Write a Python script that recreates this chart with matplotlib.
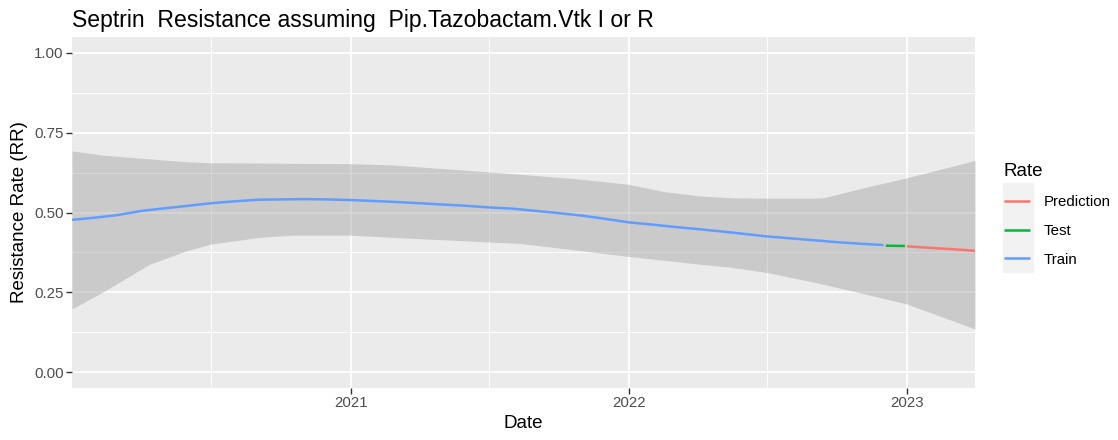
import pandas as pd
import matplotlib
matplotlib.use("Agg")
import matplotlib.pyplot as plt
import matplotlib.dates as mdates
from matplotlib.patches import Rectangle

plt.rcParams['font.family'] = ['Liberation Sans', 'DejaVu Sans']

# --- data ---
train_dates = pd.date_range("2020-01-01", "2022-12-01", freq="MS")
train_rate = [0.477, 0.484, 0.492, 0.505, 0.513, 0.521, 0.529, 0.535, 0.540, 0.541, 0.542, 0.541,
              0.539, 0.536, 0.533, 0.529, 0.525, 0.521, 0.516, 0.512, 0.505, 0.498, 0.490, 0.480,
              0.469, 0.462, 0.455, 0.448, 0.441, 0.433, 0.425, 0.419, 0.413, 0.407, 0.402, 0.398]

test_dates = pd.to_datetime(["2022-12-04", "2022-12-29"])
test_rate = [0.396, 0.395]

pred_dates = pd.to_datetime(["2023-01-01", "2023-02-01", "2023-03-01", "2023-03-31"])
pred_rate = [0.394, 0.389, 0.385, 0.380]

band_dates = pd.to_datetime([
    "2020-01-01", "2020-02-10", "2020-04-12", "2020-05-30", "2020-07-01", "2020-09-03",
    "2020-10-16", "2021-01-01", "2021-02-25", "2021-08-11", "2021-11-01", "2022-01-01",
    "2022-02-17", "2022-04-03", "2022-05-16", "2022-07-01", "2022-09-02", "2022-09-13",
    "2022-11-06", "2023-01-01", "2023-03-31"])
band_low = [0.198, 0.250, 0.338, 0.380, 0.401, 0.422, 0.429, 0.429, 0.422, 0.403, 0.380, 0.362,
            0.350, 0.338, 0.328, 0.312, 0.281, 0.275, 0.245, 0.213, 0.135]
band_high = [0.693, 0.680, 0.668, 0.659, 0.656, 0.655, 0.654, 0.653, 0.649, 0.620, 0.604, 0.588,
             0.565, 0.552, 0.546, 0.545, 0.545, 0.546, 0.578, 0.609, 0.663]

year_ticks = pd.to_datetime(["2021-01-01", "2022-01-01", "2023-01-01"])
half_years = pd.to_datetime(["2020-07-01", "2021-07-01", "2022-07-01"])

series = [("Prediction", pred_dates, pred_rate, "#F8766D"),
          ("Test", test_dates, test_rate, "#00BA38"),
          ("Train", train_dates, train_rate, "#619CFF")]

# --- figure ---
fig = plt.figure(figsize=(11.18, 4.4), dpi=100)
ax = fig.add_axes([72 / 1118, 1 - 388 / 440, (975 - 72) / 1118, (388 - 37) / 440])
ax.set_facecolor("#EBEBEB")

ax.fill_between(band_dates, band_low, band_high, color="#999999", alpha=0.4, lw=0, zorder=2)

handles = {}
for name, d, r, c in series:
    handles[name], = ax.plot(d, r, color=c, lw=1.8, solid_capstyle="butt", zorder=3, label=name)

ax.set_xlim(pd.Timestamp("2020-01-01"), pd.Timestamp("2023-03-31"))
ax.set_ylim(-0.05, 1.05)
ax.set_yticks([0, 0.25, 0.5, 0.75, 1.0])
ax.set_yticklabels(["0.00", "0.25", "0.50", "0.75", "1.00"])
ax.set_yticks([0.125, 0.375, 0.625, 0.875], minor=True)
ax.set_xticks(mdates.date2num(year_ticks))
ax.set_xticklabels([str(d.year) for d in year_ticks])
ax.set_xticks(mdates.date2num(half_years), minor=True)

ax.grid(which="major", color="white", lw=1.25, zorder=1)
ax.grid(which="minor", color="white", lw=0.65, zorder=1)
ax.set_axisbelow(True)
for s in ax.spines.values():
    s.set_visible(False)
ax.tick_params(which="major", length=4, width=1.0, color="#333333", labelcolor="#4D4D4D",
               labelsize=10.8, pad=2)
ax.tick_params(which="minor", length=0)

ax.set_xlabel("Date", fontsize=13.5, labelpad=3)
ax.set_ylabel("Resistance Rate (RR)", fontsize=13.5, labelpad=4)
ax.set_title("Septrin  Resistance assuming  Pip.Tazobactam.Vtk I or R",
             fontsize=16.6, loc="left", pad=7)

# legend
fig.patches.append(Rectangle((1003 / 1118, 1 - 272 / 440), 30 / 1118, 89 / 440,
                             transform=fig.transFigure, color="#F2F2F2", zorder=0))
fig.legend([handles[n] for n in ["Prediction", "Test", "Train"]],
           ["Prediction", "Test", "Train"], title="Rate",
           loc="upper left", bbox_to_anchor=(990 / 1118, 1 - 150 / 440),
           frameon=False, fontsize=10.8, title_fontsize=13.5,
           handlelength=1.75, handletextpad=0.95, labelspacing=0.98, alignment="left")

fig.savefig("out.png", dpi=100)
